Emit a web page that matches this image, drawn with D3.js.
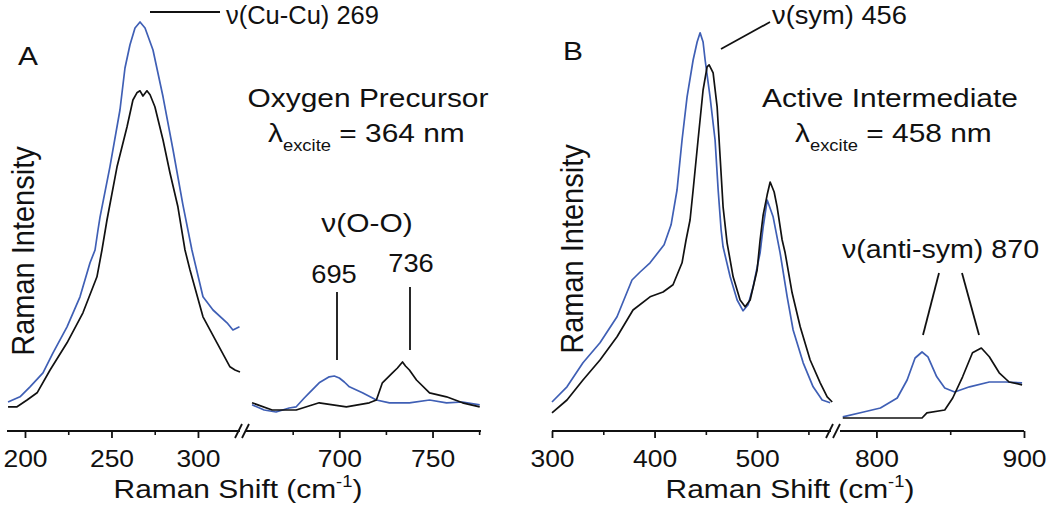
<!DOCTYPE html>
<html><head><meta charset="utf-8">
<script src="https://cdn.jsdelivr.net/npm/d3@7"></script>
<style>
body{margin:0;background:#fff}
svg{display:block}
text{font-family:"Liberation Sans",Arial,Helvetica,sans-serif;fill:#111}
</style>
</head><body>
<svg id="c" width="1050" height="507"></svg>
<script>
// ---------- data: [Raman shift (cm-1), intensity (a.u.)] ----------
const precursorBlueLow = [[190.2,7],[197.1,8.3],[202.9,10.8],[210.4,14.3],[216.2,19.3],[224.3,25.8],[231.8,33.3],[237.6,41.8],[240.5,45],[242.2,50],[243.4,53.3],[249.1,65.8],[254.9,80],[257.8,90.5],[260.7,96.3],[263.6,100.5],[266.5,102],[269.4,100.5],[274,95],[279.8,83.3],[285.6,70],[291.3,56.3],[296.5,45],[302.9,33.3],[308.7,30],[316.8,26.8],[320.2,25],[324,25.8]];
const precursorBlackLow = [[190.2,5.8],[195.4,5.8],[201.2,7.5],[207,9.3],[214.5,15],[224.3,21.8],[233.5,29.3],[241.6,38.3],[244.5,45],[247.4,52.5],[253.2,65.8],[259,75.8],[262.4,82.5],[264.7,84.3],[266.5,84.8],[268.2,83.5],[270.5,84.8],[272.3,83.8],[275.1,80.8],[279.8,72.5],[283.8,64.3],[288.4,55.8],[292.5,45],[295.4,40],[302.9,28.3],[311,21.8],[318.5,15.8],[321.4,15],[324.3,14.5]];
const precursorBlueHigh = [[653.2,6.3],[659.7,5],[666.1,4.5],[673.1,5.5],[676.9,5.8],[681.2,8],[683.9,9.3],[689.2,11.8],[694.6,13.3],[697.3,13.5],[700,13],[702.7,12],[705.4,10.8],[712.4,9.3],[719.9,7.5],[726.9,6.8],[737.6,6.8],[748.4,7.5],[757.5,6.8],[766.1,7],[775.3,6.3]];
const precursorBlackHigh = [[653.2,6.8],[664,5],[676.9,5],[689.2,6.8],[703.8,5.8],[716.1,6.8],[719.9,7.5],[723.1,11.8],[728.5,14.3],[731.2,15.5],[733.9,17],[735.5,16],[737.6,15],[741.4,12.5],[748.4,9.3],[757.5,8.3],[766.1,6.8],[775.3,5.8]];

const activeBlueLow = [[300,7],[314.6,10.8],[330.2,16.8],[346.8,21.8],[363.4,28.3],[378,37.5],[385.9,39.5],[395.6,41.8],[409.3,46.3],[416.1,51.3],[421.9,60],[426.8,72.5],[431.7,83.3],[437.6,92.5],[441.5,97],[444.4,99.3],[447.3,97],[449.3,92.5],[454.1,83.3],[459,72.5],[462,60],[464.9,50],[466.8,45.8],[473.7,38.3],[480.5,32.5],[486.3,29.8],[491.2,31.3],[496.1,35.8],[502.9,44.3],[505.9,50.8],[509.8,57.5],[515.6,53.3],[522.4,44.3],[529.3,33.3],[535.1,25],[544.9,16.8],[554.6,10.8],[563.4,7.5],[571.2,6.8]];
const activeBlackLow = [[300,4.3],[314.6,7.5],[330.2,12.5],[346.8,17.5],[363.4,23.3],[379,30],[395.6,33.3],[408.3,34.5],[418,36.3],[426.8,41.8],[430.7,47.5],[434.6,52.5],[437.6,60],[442.4,72.5],[447.3,85],[451.2,90.8],[453.2,91.3],[457.1,89.3],[461,80.8],[463.9,68.3],[466.8,55.8],[470.7,46.8],[476.6,38.3],[483.4,32.5],[488.3,30.8],[493.2,32.5],[500,40],[502.9,47.5],[505.9,53.8],[509.8,58.8],[512.7,62],[516.6,59.5],[519.5,55.8],[524.4,47.5],[527.3,44.3],[534.1,34.3],[542,25.8],[551.7,17.5],[561.5,11.8],[568.3,8.3],[573.2,7]];
const activeBlueHigh = [[777.2,3.3],[791.3,4.5],[802.7,5.5],[814.1,8],[820.8,12.5],[826.2,18],[830.9,19.5],[834.9,18.3],[840.9,13.3],[846.3,10.5],[853,9.5],[863.1,10.8],[876.5,12],[887.9,12],[898.7,11.8]];
const activeBlackHigh = [[777.2,3],[791.3,3],[814.1,3],[830.9,3],[834.2,4.3],[846.3,5],[851.7,8],[858.4,13.3],[865.1,19.3],[871.1,20.5],[876.5,18.3],[883.2,14.3],[889.9,12],[898.7,11.3]];

// tick values
const aLowMajor = [200,250,300], aLowMinor = [225,275];
const aHighMajor = [700,750], aHighMinor = [675,725,775];
const bLowMajor = [300,400,500], bLowMinor = [350,450,550];
const bHighMajor = [800,900], bHighMinor = [850];

// ---------- drawing ----------
const svg = d3.select("#c");
const AXIS_Y = 431;
const SX = 1.15;
const BLUE = "#3f5fb5", BLACK = "#111";
const y = d3.scaleLinear().domain([0,105]).range([430,10]);

const aLow = d3.scaleLinear().domain([189.6,324.3]).range([7,240]);
const aHigh = d3.scaleLinear().domain([650.5,776]).range([247,481]);
const bLow = d3.scaleLinear().domain([300,573]).range([552,832]);
const bHigh = d3.scaleLinear().domain([776,900]).range([841,1024]);

function axis(scale, majors, minors, x0, x1) {
  const g = svg.append("g").attr("transform", `translate(0,${AXIS_Y})`);
  g.append("line").attr("x1", x0).attr("x2", x1).attr("stroke", BLACK).attr("stroke-width", 2);
  const ma = g.append("g").call(d3.axisBottom(scale).tickValues(majors).tickSize(7).tickSizeOuter(0).tickFormat(d3.format("d")));
  ma.select(".domain").remove();
  ma.selectAll(".tick line").attr("stroke", BLACK).attr("stroke-width", 1.8);
  ma.selectAll(".tick text").attr("y", 36).attr("dy", 0).attr("font-size", 23)
    .attr("font-family", '"Liberation Sans",Arial,sans-serif').attr("fill", BLACK)
    .attr("transform", `scale(${SX},1)`);
  const mi = g.append("g").call(d3.axisBottom(scale).tickValues(minors).tickSize(4).tickSizeOuter(0).tickFormat(""));
  mi.select(".domain").remove();
  mi.selectAll(".tick line").attr("stroke", BLACK).attr("stroke-width", 1.6);
}
function brk(x) {
  [0, 7].forEach(d => svg.append("line")
    .attr("x1", x + d).attr("y1", AXIS_Y + 7).attr("x2", x + d + 7).attr("y2", AXIS_Y - 7)
    .attr("stroke", BLACK).attr("stroke-width", 1.8));
}
function curve(data, xs, color) {
  svg.append("path").datum(data)
    .attr("d", d3.line().x(d => xs(d[0])).y(d => y(d[1])))
    .attr("fill", "none").attr("stroke", color).attr("stroke-width", 1.7).attr("stroke-linejoin", "round");
}
function txt(str, x, yy, size, anchor, sx) {
  return svg.append("text").attr("transform", `translate(${x},${yy}) scale(${sx || SX},1)`)
    .attr("font-size", size).attr("text-anchor", anchor || "start").text(str);
}
function line(x1, y1, x2, y2) {
  svg.append("line").attr("x1", x1).attr("y1", y1).attr("x2", x2).attr("y2", y2)
    .attr("stroke", BLACK).attr("stroke-width", 1.8);
}
function xTitle(cx) {
  const t = svg.append("text").attr("transform", `translate(${cx},498) scale(${SX},1)`)
    .attr("font-size", 26).attr("text-anchor", "middle");
  t.append("tspan").text("Raman Shift (cm");
  t.append("tspan").attr("font-size", 16).attr("dy", -11).text("-1");
  t.append("tspan").attr("dy", 11).text(")");
}
function yTitle(x, cy) {
  svg.append("text").attr("transform", `translate(${x},${cy}) scale(1.1,1) rotate(-90)`)
    .attr("font-size", 29).attr("text-anchor", "middle").text("Raman Intensity");
}
function lambda(x, yy, val) {
  const t = svg.append("text").attr("transform", `translate(${x},${yy}) scale(${SX},1)`).attr("font-size", 26);
  t.append("tspan").text("λ");
  t.append("tspan").attr("font-size", 16).attr("dy", 9).text("excite");
  t.append("tspan").attr("dy", -9).text(" = " + val + " nm");
}

// axes
axis(aLow, aLowMajor, aLowMinor, 7, 240);
axis(aHigh, aHighMajor, aHighMinor, 246, 481);
brk(235);
axis(bLow, bLowMajor, bLowMinor, 552, 831);
axis(bHigh, bHighMajor, bHighMinor, 840, 1024);
brk(826);

// curves
curve(precursorBlueLow, aLow, BLUE);
curve(precursorBlackLow, aLow, BLACK);
curve(precursorBlueHigh, aHigh, BLUE);
curve(precursorBlackHigh, aHigh, BLACK);
curve(activeBlueLow, bLow, BLUE);
curve(activeBlackLow, bLow, BLACK);
curve(activeBlueHigh, bHigh, BLUE);
curve(activeBlackHigh, bHigh, BLACK);

// titles
xTitle(238);
xTitle(790);
yTitle(34, 251);
yTitle(583, 249);

// panel A annotations
txt("A", 18, 65, 26);
line(150, 12, 220, 12);
txt("ν(Cu-Cu) 269", 226, 24, 26, "start", 0.98);
txt("Oxygen Precursor", 368, 107, 26, "middle");
lambda(268, 142, "364");
txt("ν(O-O)", 367, 232, 26, "middle");
txt("695", 334, 283, 26, "middle", 1.05);
txt("736", 411, 272, 26, "middle", 1.05);
line(337, 292, 337, 360);
line(410, 287, 410, 350);

// panel B annotations
txt("B", 563, 60, 26);
line(721, 49, 770, 22);
txt("ν(sym) 456", 772, 24, 26, "start", 1.05);
txt("Active Intermediate", 890, 107, 26, "middle");
lambda(795, 142, "458");
txt("ν(anti-sym) 870", 842, 258, 26, "start", 1.1);
line(939, 273, 923, 335);
line(962, 273, 979, 335);
</script>
</body></html>
